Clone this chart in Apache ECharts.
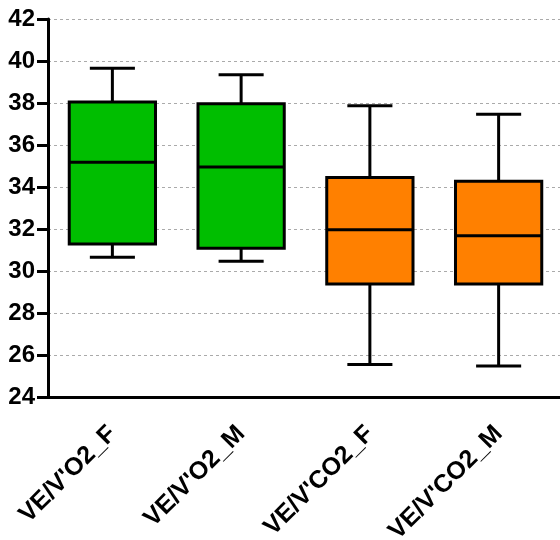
<!DOCTYPE html>
<html><head><meta charset="utf-8">
<script src="https://cdn.jsdelivr.net/npm/echarts@6/dist/echarts.min.js"></script>
<style>html,body{margin:0;padding:0;background:#fff}#c{width:560px;height:540px}</style>
</head><body><div id="c"></div>
<script>
const categories = ["VE/V'O2_F", "VE/V'O2_M", "VE/V'CO2_F", "VE/V'CO2_M"];
const whiskerLow = [30.65, 30.46, 25.55, 25.48];
const q1 = [31.28, 31.08, 29.38, 29.38];
const median = [35.18, 34.95, 31.97, 31.68];
const q3 = [38.05, 37.97, 34.45, 34.27];
const whiskerHigh = [39.65, 39.35, 37.87, 37.47];
const boxColors = ['#00BE00', '#00BE00', '#FF8000', '#FF8000'];
const yTicks = [24, 26, 28, 30, 32, 34, 36, 38, 40, 42];

const data = categories.map((c, i) => [i, whiskerLow[i], q1[i], median[i], q3[i], whiskerHigh[i]]);
const chart = echarts.init(document.getElementById('c'));
const font = 'Liberation Sans, Arial, sans-serif';
chart.setOption({
  animation: false,
  grid: { left: 48, top: 19, bottom: 143, right: -3, containLabel: false, outerBoundsMode: 'none' },
  xAxis: {
    type: 'category', data: categories, boundaryGap: true,
    axisLine: { lineStyle: { color: '#000', width: 3 } },
    axisTick: { alignWithLabel: true, length: 10, lineStyle: { color: '#000', width: 3 } },
    axisLabel: { rotate: 45, color: '#000', fontWeight: 'bold', fontSize: 25, fontFamily: font, margin: 33, verticalAlign: 'middle' },
    splitLine: { show: false }
  },
  yAxis: {
    type: 'value', min: yTicks[0], max: yTicks[yTicks.length - 1], interval: 2,
    axisLine: { show: true, lineStyle: { color: '#000', width: 3 } },
    axisTick: { show: true, length: 11, lineStyle: { color: '#000', width: 3 } },
    axisLabel: { color: '#000', fontWeight: 'bold', fontSize: 24, fontFamily: font, margin: 13 },
    splitLine: { show: true, lineStyle: { color: '#aaa', type: [3, 3], width: 1 } }
  },
  series: [{
    type: 'custom',
    data: data,
    encode: { x: 0, y: [1, 2, 3, 4, 5] },
    renderItem: function (params, api) {
      const i = api.value(0);
      const bw = api.size([1, 0])[0];
      const hb = bw * 0.335, hc = bw * 0.175;
      const pLo = api.coord([i, api.value(1)]);
      const pQ1 = api.coord([i, api.value(2)]);
      const pMed = api.coord([i, api.value(3)]);
      const pQ3 = api.coord([i, api.value(4)]);
      const pHi = api.coord([i, api.value(5)]);
      const cx = pMed[0];
      const ls = { stroke: '#000', lineWidth: 3 };
      return {
        type: 'group',
        children: [
          { type: 'line', shape: { x1: cx, y1: pHi[1], x2: cx, y2: pQ3[1] }, style: ls },
          { type: 'line', shape: { x1: cx, y1: pQ1[1], x2: cx, y2: pLo[1] }, style: ls },
          { type: 'line', shape: { x1: cx - hc, y1: pHi[1], x2: cx + hc, y2: pHi[1] }, style: ls },
          { type: 'line', shape: { x1: cx - hc, y1: pLo[1], x2: cx + hc, y2: pLo[1] }, style: ls },
          { type: 'rect', shape: { x: cx - hb, y: pQ3[1], width: 2 * hb, height: pQ1[1] - pQ3[1] },
            style: { fill: boxColors[params.dataIndex], stroke: '#000', lineWidth: 3 } },
          { type: 'line', shape: { x1: cx - hb, y1: pMed[1], x2: cx + hb, y2: pMed[1] }, style: ls }
        ]
      };
    }
  }]
});
</script></body></html>
